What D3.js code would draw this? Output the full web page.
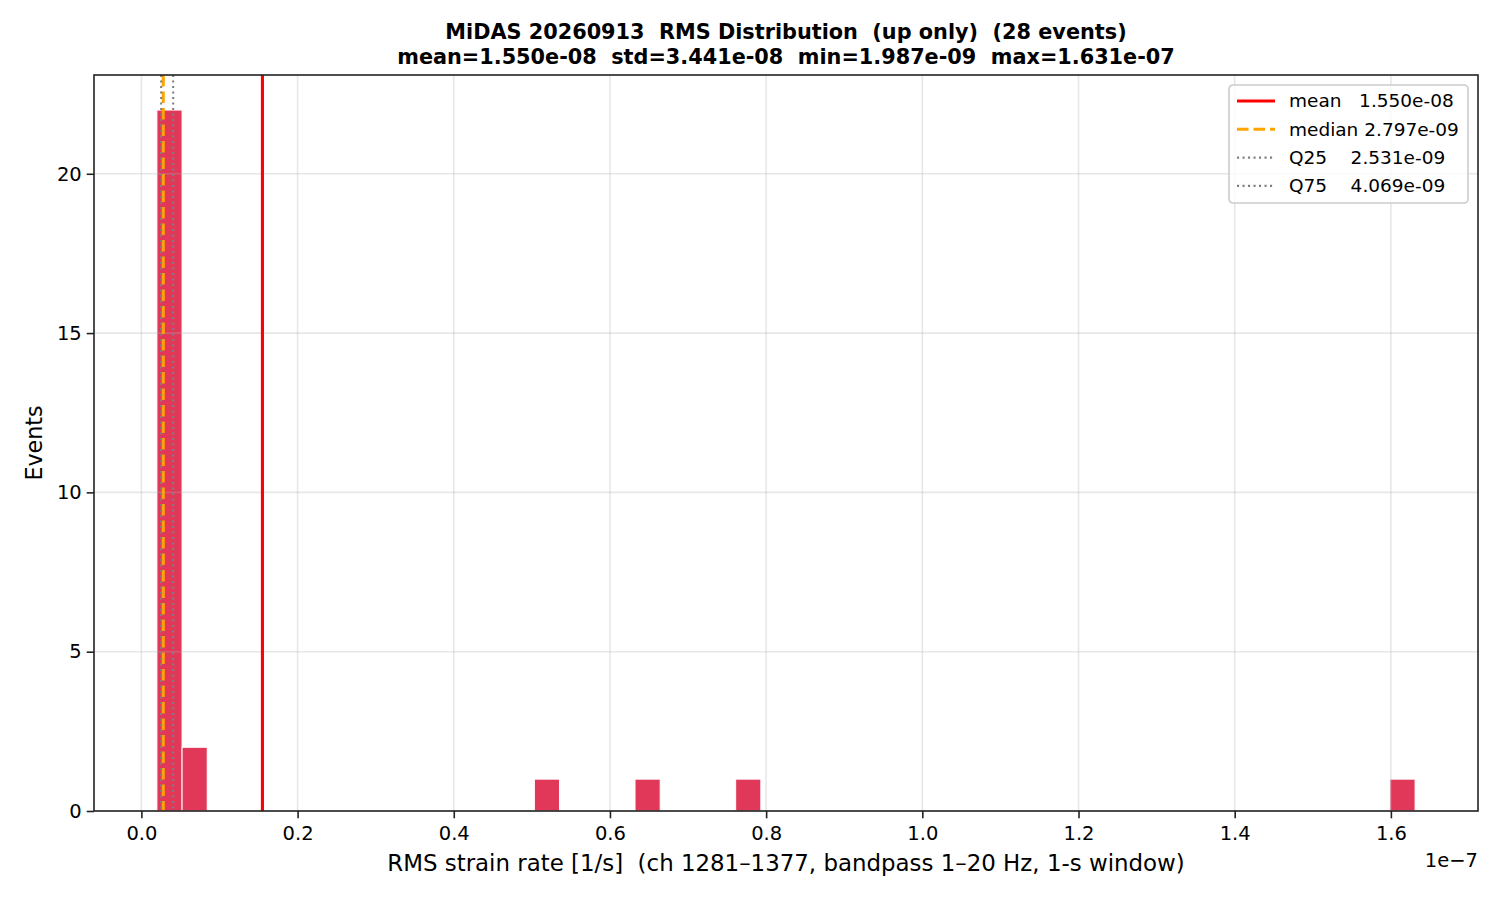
<!DOCTYPE html>
<meta charset="utf-8">
<style>
body { margin: 0; background: #fff; }
text { font-family: "DejaVu Sans", sans-serif; fill: #000; }
</style>
<svg width="1500" height="900"></svg>
<script src="https://d3js.org/d3.v7.min.js"></script>
<script>

// histogram of 28 events, 50 equal bins between min and max
var rmsMin = 1.987e-9,
    rmsMax = 1.631e-7;
var binCounts = [22, 2, 0, 0, 0, 0, 0, 0, 0, 0,
                 0, 0, 0, 0, 0, 1, 0, 0, 0, 1,
                 0, 0, 0, 1, 0, 0, 0, 0, 0, 0,
                 0, 0, 0, 0, 0, 0, 0, 0, 0, 0,
                 0, 0, 0, 0, 0, 0, 0, 0, 0, 1];

// reference lines
var statNames  = ["mean", "median", "Q25", "Q75"];
var statValues = [1.550e-8, 2.797e-9, 2.531e-9, 4.069e-9];
var statLabels = ["mean   1.550e-08", "median 2.797e-09", "Q25    2.531e-09", "Q75    4.069e-09"];

var xTicks = [0, 0.2e-7, 0.4e-7, 0.6e-7, 0.8e-7, 1.0e-7, 1.2e-7, 1.4e-7, 1.6e-7];
var yTicks = [0, 5, 10, 15, 20];

var titleLines = ["MiDAS 20260913  RMS Distribution  (up only)  (28 events)",
                  "mean=1.550e-08  std=3.441e-08  min=1.987e-09  max=1.631e-07"];

var svg = d3.select("svg");
// plot box (don't call it "top", that's window.top)
var plotL = 94, plotR = 1478, plotT = 75, plotB = 811;

var binW = (rmsMax - rmsMin) / binCounts.length;
var bins = binCounts.map(function(c, i) {
  return {x0: rmsMin + i * binW, x1: rmsMin + (i + 1) * binW, n: c};
});

// matplotlib style 5% margins
var pad = (rmsMax - rmsMin) * 0.05;
var x = d3.scaleLinear().domain([rmsMin - pad, rmsMax + pad]).range([plotL, plotR]);
var y = d3.scaleLinear().domain([0, d3.max(binCounts) * 1.05]).range([plotB, plotT]);

// bars
svg.append("g")
  .selectAll("rect")
  .data(bins.filter(function(d) { return d.n > 0; }))
  .enter().append("rect")
  .attr("x", function(d) { return x(d.x0); })
  .attr("width", function(d) { return x(d.x1) - x(d.x0); })
  .attr("y", function(d) { return y(d.n); })
  .attr("height", function(d) { return y(0) - y(d.n); })
  .attr("fill", "#DC143C")
  .attr("fill-opacity", 0.85)
  .attr("stroke", "#fff")
  .attr("stroke-width", 1);

// grid (above the bars, like matplotlib)
var grid = svg.append("g").attr("stroke", "#b0b0b0").attr("stroke-opacity", 0.3).attr("stroke-width", 1.6);
grid.selectAll(".gx").data(xTicks).enter().append("line")
  .attr("x1", function(d) { return x(d); }).attr("x2", function(d) { return x(d); })
  .attr("y1", plotT).attr("y2", plotB);
grid.selectAll(".gy").data(yTicks).enter().append("line")
  .attr("y1", function(d) { return y(d); }).attr("y2", function(d) { return y(d); })
  .attr("x1", plotL).attr("x2", plotR);

// vertical stat lines
var lineStyle = [
  {color: "red", width: 3.1, dash: null},
  {color: "orange", width: 3.1, dash: "11.5,5"},
  {color: "gray", width: 2.1, dash: "2.1,3.4"},
  {color: "gray", width: 2.1, dash: "2.1,3.4"}
];
svg.append("g").selectAll("line")
  .data(statValues)
  .enter().append("line")
  .attr("x1", function(d) { return x(d); }).attr("x2", function(d) { return x(d); })
  .attr("y1", plotT).attr("y2", plotB)
  .attr("stroke", function(d, i) { return lineStyle[i].color; })
  .attr("stroke-width", function(d, i) { return lineStyle[i].width; })
  .attr("stroke-dasharray", function(d, i) { return lineStyle[i].dash; });

// axes
var xAxis = d3.axisBottom(x).tickValues(xTicks).tickSize(7.3).tickPadding(5)
  .tickFormat(function(d) { return (d / 1e-7).toFixed(1); });
var yAxis = d3.axisLeft(y).tickValues(yTicks).tickSize(7.3).tickPadding(5);

var gx = svg.append("g").attr("transform", "translate(0," + plotB + ")").call(xAxis);
var gy = svg.append("g").attr("transform", "translate(" + plotL + ",0)").call(yAxis);
[gx, gy].forEach(function(g) {
  g.select(".domain").remove();
  g.selectAll(".tick line").attr("stroke", "#222").attr("stroke-width", 1.6);
  g.selectAll(".tick text").style("font-size", "19.5px").attr("fill", "#000");
});
gx.selectAll(".tick text").attr("dy", "0.85em");

// spines
svg.append("rect")
  .attr("x", plotL).attr("y", plotT)
  .attr("width", plotR - plotL).attr("height", plotB - plotT)
  .attr("fill", "none").attr("stroke", "#222").attr("stroke-width", 1.6);

// offset text
svg.append("text").attr("x", plotR).attr("y", 867)
  .attr("text-anchor", "end").style("font-size", "19.5px").text("1e\u22127");

// labels
svg.append("text").attr("x", (plotL + plotR) / 2).attr("y", 871)
  .attr("text-anchor", "middle").style("font-size", "22.9px").style("white-space", "pre")
  .text("RMS strain rate [1/s]  (ch 1281\u20131377, bandpass 1\u201320 Hz, 1-s window)");
svg.append("text").attr("transform", "translate(42," + ((plotT + plotB) / 2) + ") rotate(-90)")
  .attr("text-anchor", "middle").style("font-size", "22.2px").text("Events");

// title
svg.append("g").selectAll("text")
  .data(titleLines)
  .enter().append("text")
  .attr("x", (plotL + plotR) / 2)
  .attr("y", function(d, i) { return 39 + i * 24.5; })
  .attr("text-anchor", "middle")
  .style("font-size", "20.8px").style("font-weight", "bold")
  .style("white-space", "pre")
  .text(function(d) { return d; });

// legend
var legend = svg.append("g").attr("transform", "translate(1229,85)");
legend.append("rect")
  .attr("width", 239).attr("height", 118).attr("rx", 4)
  .attr("fill", "#fff").attr("fill-opacity", 0.8)
  .attr("stroke", "#ccc").attr("stroke-width", 1.6);
var rows = legend.selectAll(".row")
  .data(statNames)
  .enter().append("g")
  .attr("transform", function(d, i) { return "translate(0," + (16 + i * 28.3) + ")"; });
rows.append("line")
  .attr("x1", 8).attr("x2", 46)
  .attr("stroke", function(d, i) { return lineStyle[i].color; })
  .attr("stroke-width", function(d, i) { return lineStyle[i].width; })
  .attr("stroke-dasharray", function(d, i) { return lineStyle[i].dash; });
rows.append("text")
  .attr("x", 60).attr("dy", "0.35em")
  .style("font-size", "18.5px").style("white-space", "pre")
  .text(function(d, i) { return statLabels[i]; });

</script>
